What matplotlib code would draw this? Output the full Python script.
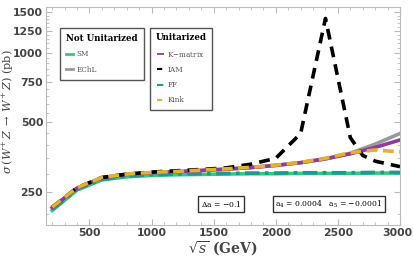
import matplotlib
matplotlib.use("Agg")
import matplotlib.pyplot as plt
from matplotlib.lines import Line2D
from matplotlib.ticker import FixedLocator, NullFormatter, FixedFormatter
import matplotlib.transforms as mtransforms

plt.rcParams['mathtext.fontset'] = 'dejavuserif'

x = [200, 400, 600, 800, 1000, 1200, 1400, 1600, 1800, 2000, 2200, 2400, 2600, 2800, 3000]
sm = [208, 255, 282, 291, 295, 297, 298, 299, 300, 300, 301, 301, 301, 302, 302]
ff = [210, 257, 284, 293, 297, 299, 300, 301, 302, 302, 303, 303, 303, 304, 304]
echl = [214, 260, 288, 298, 303, 306, 310, 314, 319, 326, 335, 348, 368, 403, 448]
kmat = [214, 260, 288, 298, 303, 306, 310, 314, 319, 326, 335, 348, 366, 390, 420]
kink = [215, 261, 289, 299, 304, 307, 311, 315, 320, 327, 336, 350, 370, 380, 373]
x_iam = [200, 400, 600, 800, 1000, 1200, 1400, 1600, 1800, 2000, 2200, 2400, 2600, 2700, 2800, 3000]
iam = [215, 261, 289, 299, 305, 309, 313, 318, 330, 350, 448, 1410, 430, 360, 340, 322]

yticks = [250, 500, 750, 1000, 1250, 1500]
xticks = [500, 1000, 1500, 2000, 2500, 3000]

fig = plt.figure(figsize=(4.13, 2.64), dpi=100)
ax = fig.add_axes([46/413, 39/264, 354/413, 218/264])
ax.set_yscale('log')

c_sm = '#2ecc7a'
c_echl = '#999999'
c_km = '#8e3a9e'
c_iam = '#000000'
c_ff = '#1a9a92'
c_kink = '#e3b02f'
lw = 2.6

ax.plot(x, sm, color=c_sm, lw=lw, zorder=2)
ax.plot(x, ff, color=c_ff, lw=lw, ls=(0, (4, 1.5, 1, 1.5)), zorder=3)
ax.plot(x, echl, color=c_echl, lw=lw, zorder=4)
ax.plot(x, kmat, color=c_km, lw=lw, zorder=5)
ax.plot(x_iam, iam, color=c_iam, lw=lw, ls=(0, (3, 2)), zorder=6)
ax.plot(x, kink, color=c_kink, lw=lw, ls=(0, (3, 1.5)), zorder=7)

ax.set_xlim(150, 3000)
ax.set_ylim(180, 1580)
ax.yaxis.set_major_locator(FixedLocator(yticks))
ax.yaxis.set_major_formatter(FixedFormatter([str(v) for v in yticks]))
ax.yaxis.set_minor_locator(FixedLocator([200, 300, 350, 400, 450, 550, 600, 650, 700, 800, 850, 900, 950, 1050, 1100, 1150, 1200, 1300, 1350, 1400, 1450]))
ax.yaxis.set_minor_formatter(NullFormatter())
ax.set_xticks(xticks)
ax.set_xticks([200, 300, 400, 600, 700, 800, 900, 1100, 1200, 1300, 1400, 1600, 1700, 1800, 1900, 2100, 2200, 2300, 2400, 2600, 2700, 2800, 2900], minor=True)

for s in ax.spines.values():
    s.set_color('#bbbbbb')
    s.set_linewidth(0.8)
ax.tick_params(which='both', direction='in', color='#bbbbbb', top=True, right=True,
               labelcolor='#444444', pad=2)
ax.tick_params(which='major', length=4)
ax.tick_params(which='minor', length=2)
for lab in ax.get_xticklabels() + ax.get_yticklabels():
    lab.set_fontweight('bold')
    lab.set_fontsize(7.8)
# keep the last x tick label inside the canvas
last = ax.get_xticklabels()[-1]
last.set_transform(last.get_transform() + mtransforms.ScaledTranslation(-3/100, 0, fig.dpi_scale_trans))

ax.set_xlabel(r'$\sqrt{s}$ (GeV)', family='DejaVu Serif', fontweight='bold', fontsize=10, color='#444444', labelpad=1)
fig.text(8/413, 1 - 112/264, r'$\sigma\,(W^{+}\,Z\;\rightarrow\;W^{+}\,Z)$ (pb)', family='DejaVu Serif',
         fontsize=8.2, color='#444444', rotation=90, ha='center', va='center')

h1 = [Line2D([], [], color=c_sm, lw=2), Line2D([], [], color=c_echl, lw=2)]
leg1 = ax.legend(h1, ['SM', 'EChL'], title='Not Unitarized', loc='upper left',
                 bbox_to_anchor=(10/354, 1 - 17/218), frameon=True, fancybox=False,
                 edgecolor='#555555', handlelength=1.0, handletextpad=0.4,
                 prop={'family': 'DejaVu Serif', 'size': 5.2}, borderpad=0.9, labelspacing=1.0,
                 framealpha=1)
leg1.get_title().set_fontweight('bold')
leg1.get_title().set_family('DejaVu Serif')
leg1.get_title().set_fontsize(6.2)
leg1.get_frame().set_linewidth(1.0)
leg1._legend_box.align = 'left'
for t in leg1.get_texts():
    t.set_color('#555555')
ax.add_artist(leg1)

h2 = [Line2D([], [], color=c_km, lw=1.3, ls=(0, (4, 1))), Line2D([], [], color=c_iam, lw=1.5, ls=(0, (2.5, 1.2))),
      Line2D([], [], color=c_ff, lw=1.5, ls=(0, (3, 1, 1, 1))), Line2D([], [], color=c_kink, lw=1.5, ls=(0, (2.5, 1.2)))]
leg2 = ax.legend(h2, ['K$-$matrix', 'IAM', 'FF', 'Kink'], title='Unitarized', loc='upper left',
                 bbox_to_anchor=(100/354, 1 - 17/218), frameon=True, fancybox=False,
                 edgecolor='#555555', handlelength=1.0, handletextpad=0.4,
                 prop={'family': 'DejaVu Serif', 'size': 5.2}, borderpad=0.8, labelspacing=1.0,
                 framealpha=1)
leg2.get_title().set_fontweight('bold')
leg2.get_title().set_family('DejaVu Serif')
leg2.get_title().set_fontsize(6.2)
leg2.get_frame().set_linewidth(1.0)
for t in leg2.get_texts():
    t.set_color('#555555')

box = dict(boxstyle='square,pad=0.35', fc='white', ec='#333333', lw=1.0)
ax.text(1560, 222, r'$\Delta$a = $-$0.1', family='DejaVu Serif', fontsize=5.5, ha='center', va='center', bbox=box, zorder=10)
ax.text(2426, 222, r'a$_4$ = 0.0004   a$_5$ = $-$0.0001', family='DejaVu Serif', fontsize=5.5, ha='center', va='center', bbox=box, zorder=10)

fig.savefig('out.png', dpi=100)
